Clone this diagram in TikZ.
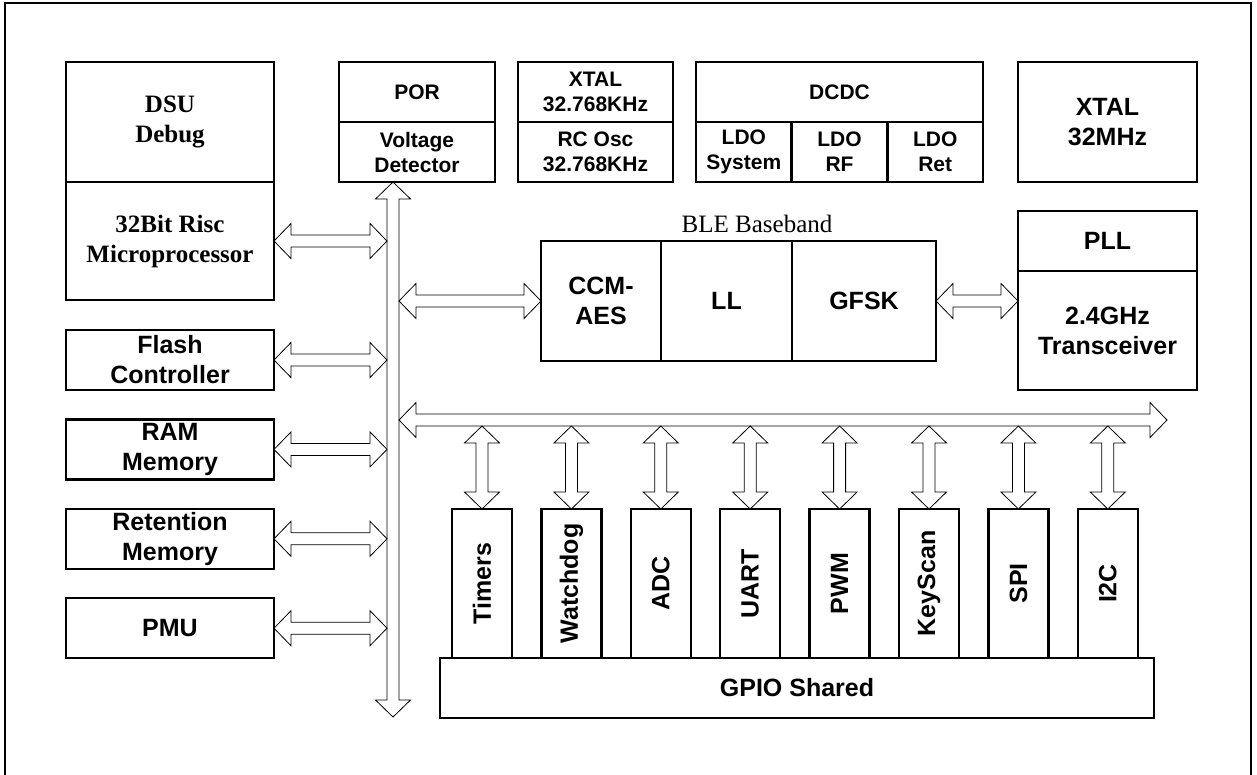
\documentclass[tikz,border=0pt]{standalone}
\usepackage{fontspec}
\setmainfont{Liberation Serif}
\setsansfont{Liberation Sans}
\usepackage{graphicx}
\usetikzlibrary{positioning, calc}

\newcommand{\arrlen}{17pt}
\newcommand{\arrhead}{17.5pt}
\newcommand{\arrshaft}{6pt}
% hollow double-headed block arrow between two points
\newcommand{\busarrow}[2]{%
  \draw[barr] (#1)
    -- ($(#1)!\arrlen!(#2)!\arrhead!90:(#2)$)
    -- ($(#1)!\arrlen!(#2)!\arrshaft!90:(#2)$)
    -- ($(#2)!\arrlen!(#1)!\arrshaft!270:(#1)$)
    -- ($(#2)!\arrlen!(#1)!\arrhead!270:(#1)$)
    -- (#2)
    -- ($(#2)!\arrlen!(#1)!\arrhead!90:(#1)$)
    -- ($(#2)!\arrlen!(#1)!\arrshaft!90:(#1)$)
    -- ($(#1)!\arrlen!(#2)!\arrshaft!270:(#2)$)
    -- ($(#1)!\arrlen!(#2)!\arrhead!270:(#2)$)
    -- cycle;}

\begin{document}
\begin{tikzpicture}[
    x=1pt, y=-1pt,
    node distance=29.4pt,
    box/.style={draw, line width=2.4pt, inner sep=0pt, outer sep=0pt, align=center, font=\sffamily\bfseries\fontsize{25}{30}\selectfont},
    sbox/.style={box, minimum height=60pt, font=\sffamily\bfseries\fontsize{21}{25}\selectfont},
    rbox/.style={box, minimum width=208pt, font=\rmfamily\bfseries\fontsize{25}{30}\selectfont},
    lbox/.style={box, minimum width=208pt, minimum height=60pt},
    pbox/.style={box, minimum width=60pt, minimum height=149pt},
    barr/.style={draw=black, line width=0.8pt, fill=white},
]
    \useasboundingbox (0,0) rectangle (1257,774);
    \draw[line width=2pt] (5,790) -- (5,3) -- (1251,3) -- (1251,790);

    % left column
    \node[rbox, minimum height=120pt] (dsu) at (170,122) {DSU\\Debug};
    \node[rbox, minimum height=118pt, below=0pt of dsu] (cpu) {32Bit Risc\\Microprocessor};
    \node[lbox, below=30pt of cpu] (flash) {Flash\\Controller};
    \node[lbox, below=of flash] (ram) {RAM\\Memory};
    \node[lbox, below=of ram] (ret) {Retention\\Memory};
    \node[lbox, below=of ret] (pmu) {PMU};

    % top row
    \node[sbox, minimum width=156pt] (por) at (417,92) {POR};
    \node[sbox, minimum width=156pt, below=0pt of por] (vdet) {Voltage\\Detector};
    \node[sbox, minimum width=155pt, right=23pt of por] (xtal) {XTAL\\32.768KHz};
    \node[sbox, minimum width=155pt, below=0pt of xtal] (rcosc) {RC Osc\\32.768KHz};
    \node[sbox, minimum width=287pt, right=23pt of xtal] (dcdc) {DCDC};
    \node[sbox, minimum width=95.67pt, below right=0pt of dcdc.south west] (ldosys) {LDO\\System};
    \node[sbox, minimum width=95.67pt, right=0pt of ldosys] (ldorf) {LDO\\RF};
    \node[sbox, minimum width=95.67pt, right=0pt of ldorf] (ldoret) {LDO\\Ret};
    \node[box, minimum width=179pt, minimum height=120pt] (xtalm) at (1107.5,122) {XTAL\\32MHz};

    % radio
    \node[box, minimum width=179pt, minimum height=60pt] (pll) at (1107.5,241) {PLL};
    \node[box, minimum width=179pt, minimum height=119pt, below=0pt of pll] (trx) {2.4GHz\\Transceiver};
    \node[box, minimum width=120pt, minimum height=120pt] (ccm) at (601,301) {CCM-\\AES};
    \node[box, minimum width=131pt, minimum height=120pt, right=0pt of ccm] (ll) {LL};
    \node[box, minimum width=144pt, minimum height=120pt, right=0pt of ll] (gfsk) {GFSK};
    \node[font=\rmfamily\fontsize{25}{30}\selectfont] (ble) at (757,224) {BLE Baseband};

    % peripherals
    \node[pbox] (tim) at (482,583.5) {\rotatebox{90}{Timers}};
    \node[pbox, right=of tim] (wdog) {\rotatebox{90}{Watchdog}};
    \node[pbox, right=of wdog] (adc) {\rotatebox{90}{ADC}};
    \node[pbox, right=of adc] (uart) {\rotatebox{90}{UART}};
    \node[pbox, right=of uart] (pwm) {\rotatebox{90}{PWM}};
    \node[pbox, right=of pwm] (kscan) {\rotatebox{90}{KeyScan}};
    \node[pbox, right=of kscan] (spi) {\rotatebox{90}{SPI}};
    \node[pbox, right=of spi] (iic) {\rotatebox{90}{I2C}};
    \node[box, minimum width=714pt, minimum height=60pt] (gpio) at (797,688) {GPIO Shared};

    % bus ends
    \coordinate (busx) at (393,0);
    \coordinate (busl) at (387,0);
    \coordinate (busr) at (399,0);
    \coordinate (busend) at (393,717);
    \coordinate (hbusw) at (399,420);
    \coordinate (hbuse) at (1167,420);
    \coordinate (hbuslow) at (0,426);

    \busarrow{vdet.south -| busx}{busend}
    \busarrow{cpu.east}{cpu.east -| busl}
    \busarrow{flash.east}{flash.east -| busl}
    \busarrow{ram.east}{ram.east -| busl}
    \busarrow{ret.east}{ret.east -| busl}
    \busarrow{pmu.east}{pmu.east -| busl}
    \busarrow{busr |- ccm.west}{ccm.west}
    \busarrow{gfsk.east}{gfsk.east -| trx.west}
    \busarrow{hbusw}{hbuse}
    \busarrow{hbuslow -| tim.north}{tim.north}
    \busarrow{hbuslow -| wdog.north}{wdog.north}
    \busarrow{hbuslow -| adc.north}{adc.north}
    \busarrow{hbuslow -| uart.north}{uart.north}
    \busarrow{hbuslow -| pwm.north}{pwm.north}
    \busarrow{hbuslow -| kscan.north}{kscan.north}
    \busarrow{hbuslow -| spi.north}{spi.north}
    \busarrow{hbuslow -| iic.north}{iic.north}
\end{tikzpicture}
\end{document}
